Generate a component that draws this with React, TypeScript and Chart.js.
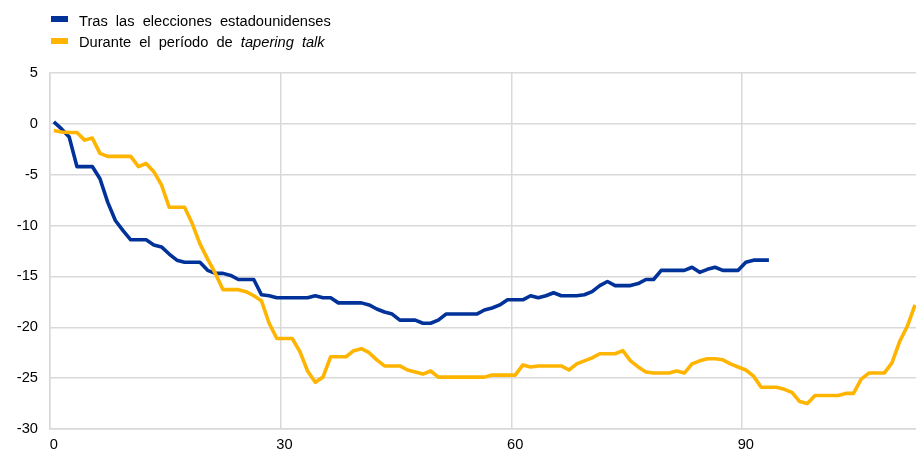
import React, { useEffect, useRef } from "react";
import { Chart, registerables } from "chart.js";

Chart.register(...registerables);

const seriesBlueLabel = "Tras las elecciones estadounidenses";
const seriesYellowLabel = "Durante el período de ";
const seriesYellowItalic = "tapering talk";

const dayCount = 113;
const days: string[] = Array.from({ length: dayCount }, (_, i) => String(i));

const xTickLabels = ["0", "30", "60", "90"];
const yMin = -30;
const yMax = 5;
const yStep = 5;

const blueValues: number[] = [
  0.2, -0.5, -1.3, -4.2, -4.2, -4.2, -5.4, -7.7, -9.5, -10.5,
  -11.4, -11.4, -11.4, -11.9, -12.1, -12.8, -13.4, -13.6, -13.6, -13.6,
  -14.4, -14.7, -14.7, -14.9, -15.3, -15.3, -15.3, -16.8, -16.9, -17.1,
  -17.1, -17.1, -17.1, -17.1, -16.9, -17.1, -17.1, -17.6, -17.6, -17.6,
  -17.6, -17.8, -18.2, -18.5, -18.7, -19.3, -19.3, -19.3, -19.6, -19.6,
  -19.3, -18.7, -18.7, -18.7, -18.7, -18.7, -18.3, -18.1, -17.8, -17.3,
  -17.3, -17.3, -16.9, -17.1, -16.9, -16.6, -16.9, -16.9, -16.9, -16.8,
  -16.5, -15.9, -15.5, -15.9, -15.9, -15.9, -15.7, -15.3, -15.3, -14.4,
  -14.4, -14.4, -14.4, -14.1, -14.6, -14.3, -14.1, -14.4, -14.4, -14.4,
  -13.6, -13.4, -13.4, -13.4,
];

const yellowValues: number[] = [
  -0.65, -0.8, -0.85, -0.85, -1.6, -1.4, -2.9, -3.2, -3.2, -3.2,
  -3.2, -4.2, -3.9, -4.7, -6.0, -8.2, -8.2, -8.2, -9.8, -11.8,
  -13.3, -14.7, -16.3, -16.3, -16.3, -16.5, -16.9, -17.4, -19.6, -21.1,
  -21.1, -21.1, -22.4, -24.3, -25.4, -24.9, -22.9, -22.9, -22.9, -22.3,
  -22.1, -22.5, -23.2, -23.8, -23.8, -23.8, -24.2, -24.4, -24.6, -24.3,
  -24.9, -24.9, -24.9, -24.9, -24.9, -24.9, -24.9, -24.7, -24.7, -24.7,
  -24.7, -23.7, -23.9, -23.8, -23.8, -23.8, -23.8, -24.2, -23.6, -23.3,
  -23.0, -22.6, -22.6, -22.6, -22.3, -23.3, -23.9, -24.4, -24.5, -24.5,
  -24.5, -24.3, -24.5, -23.6, -23.3, -23.1, -23.1, -23.2, -23.6, -23.9,
  -24.2, -24.8, -25.9, -25.9, -25.9, -26.1, -26.4, -27.3, -27.5, -26.7,
  -26.7, -26.7, -26.7, -26.5, -26.5, -25.1, -24.5, -24.5, -24.5, -23.5,
  -21.4, -19.9, -17.8,
];

const BLUE = "#003299";
const YELLOW = "#FFB400";
const GRID = "#d9d9d9";
const FONT = "'Liberation Sans', Arial, sans-serif";
const FONT_SIZE = 14.67;

export default function App() {
  const canvasRef = useRef<HTMLCanvasElement | null>(null);

  useEffect(() => {
    const canvas = canvasRef.current;
    if (!canvas) return;
    const chart = new Chart(canvas, {
      type: "line",
      data: {
        labels: days,
        datasets: [
          {
            label: seriesBlueLabel,
            data: blueValues,
            borderColor: BLUE,
            backgroundColor: BLUE,
            borderWidth: 3.6,
            pointRadius: 0,
            tension: 0,
            borderJoinStyle: "round",
            order: 2,
          },
          {
            label: seriesYellowLabel + seriesYellowItalic,
            data: yellowValues,
            borderColor: YELLOW,
            backgroundColor: YELLOW,
            borderWidth: 3.6,
            pointRadius: 0,
            tension: 0,
            borderJoinStyle: "round",
            order: 1,
          },
        ],
      },
      options: {
        responsive: false,
        animation: false,
        layout: { padding: { top: 73, right: 0, left: 0, bottom: 0 } },
        plugins: {
          legend: { display: false },
          tooltip: { enabled: false },
        },
        scales: {
          x: {
            type: "category",
            offset: true,
            grid: {
              offset: true,
              drawTicks: false,
              lineWidth: 1.5,
              color: (ctx: any) =>
                ctx.index % 30 === 0 ? GRID : "rgba(0,0,0,0)",
            },
            border: { display: true, color: GRID, width: 1.5 },
            ticks: {
              autoSkip: false,
              maxRotation: 0,
              padding: 7,
              color: "#000",
              font: { family: FONT, size: FONT_SIZE },
              callback: (_v: any, idx: number) =>
                xTickLabels.includes(days[idx]) ? days[idx] : "",
            },
            afterFit: (scale: any) => {
              scale.height = 26;
            },
          },
          y: {
            min: yMin,
            max: yMax,
            ticks: {
              stepSize: yStep,
              padding: 12,
              color: "#000",
              font: { family: FONT, size: FONT_SIZE },
            },
            grid: { color: GRID, lineWidth: 1.5, drawTicks: false },
            border: { display: true, color: GRID, width: 1.5 },
            afterFit: (scale: any) => {
              scale.width = 50;
            },
          },
        },
      },
    });
    return () => chart.destroy();
  }, []);

  const textStyle: React.CSSProperties = {
    position: "absolute",
    left: 79,
    height: 16,
    lineHeight: "16px",
    fontFamily: FONT,
    fontSize: FONT_SIZE,
    color: "#000",
    whiteSpace: "nowrap",
    wordSpacing: 4,
  };

  return (
    <div
      style={{
        position: "absolute",
        left: 0,
        top: 0,
        width: 916,
        height: 455,
        background: "#fff",
        overflow: "hidden",
      }}
    >
      <canvas
        ref={canvasRef}
        width={922}
        height={455}
        style={{ position: "absolute", left: 0, top: 0, width: 922, height: 455 }}
      />
      <div style={{ position: "absolute", left: 51, top: 16, width: 17, height: 6, background: BLUE }} />
      <div style={{ ...textStyle, top: 13 }}>{seriesBlueLabel}</div>
      <div style={{ position: "absolute", left: 51, top: 38, width: 17, height: 6, background: YELLOW }} />
      <div style={{ ...textStyle, top: 34 }}>
        {seriesYellowLabel}
        <i>{seriesYellowItalic}</i>
      </div>
    </div>
  );
}
